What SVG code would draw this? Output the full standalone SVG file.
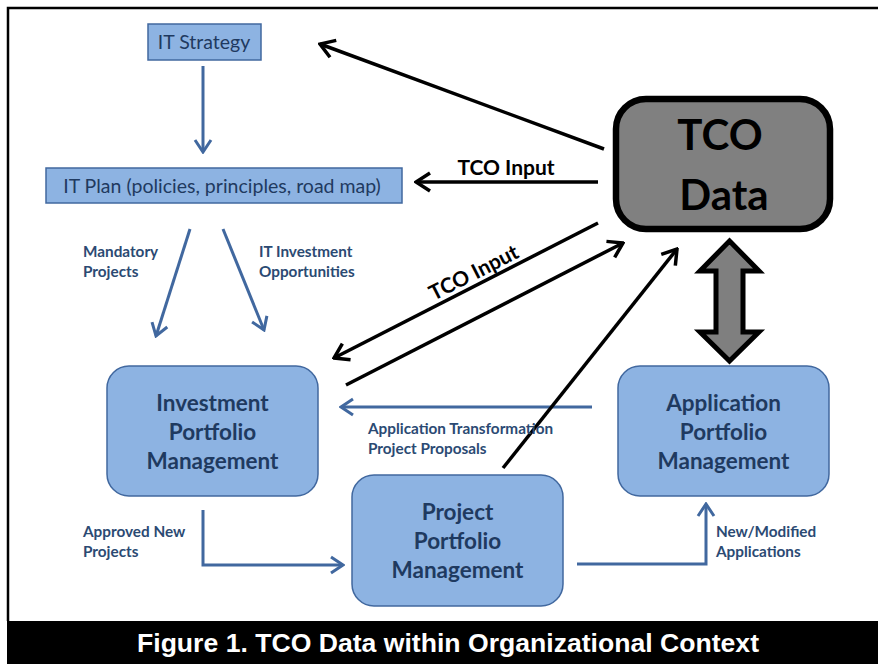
<svg xmlns="http://www.w3.org/2000/svg" width="878" height="664" viewBox="0 0 878 664">
  <style>
    .box { fill: #8db3e2; stroke: #41689f; stroke-width: 1.5; }
    .node-text { font-family: Lato, "Open Sans", sans-serif; fill: #1f3a60; text-anchor: middle; }
    .big { font-size: 22.5px; font-weight: bold; }
    .plain { font-size: 19.5px; }
    .label { font-family: Lato, "Open Sans", sans-serif; font-size: 15.3px; font-weight: bold; fill: #2b4a73; }
    .blue { fill: none; stroke: #41689f; stroke-width: 3; }
    .black { fill: none; stroke: #000; stroke-width: 3.5; }
    .tco-label { font-family: Lato, "Open Sans", sans-serif; font-size: 21px; font-weight: bold; fill: #000; text-anchor: middle; }
    .tco-big { font-family: Lato, "Open Sans", sans-serif; font-size: 42px; font-weight: bold; fill: #000; text-anchor: middle; }
  </style>
  <defs>
    <marker id="head-blue" markerUnits="userSpaceOnUse" viewBox="0 0 16 20" markerWidth="16" markerHeight="20" refX="14" refY="10" orient="auto">
      <path d="M2,2 L14,10 L2,18" fill="none" stroke="#41689f" stroke-width="3"/>
    </marker>
    <marker id="head-black" markerUnits="userSpaceOnUse" viewBox="0 0 18 22" markerWidth="18" markerHeight="22" refX="16" refY="11" orient="auto">
      <path d="M2,2 L16,11 L2,20" fill="none" stroke="#000" stroke-width="3.5"/>
    </marker>
  </defs>

  <rect x="0" y="0" width="878" height="664" fill="#fff"/>
  <!-- outer frame -->
  <path d="M8,621 V8 H878" fill="none" stroke="#000" stroke-width="2.5"/>

  <g id="it-strategy">
    <rect class="box" x="148" y="24" width="113" height="36"/>
    <text class="node-text plain" x="204" y="49">IT Strategy</text>
  </g>

  <g id="it-plan">
    <rect class="box" x="46" y="168" width="356" height="35"/>
    <text class="node-text plain" x="222" y="193">IT Plan (policies, principles, road map)</text>
  </g>

  <g id="tco-data">
    <rect x="616" y="99" width="214" height="130" rx="30" fill="#808080" stroke="#000" stroke-width="6.5"/>
    <text class="tco-big" x="720" y="150">TCO</text>
    <text class="tco-big" x="724" y="210">Data</text>
  </g>

  <g id="investment-portfolio">
    <rect class="box" x="107" y="366" width="211" height="130" rx="22"/>
    <text class="node-text big" x="212.5" y="411">Investment</text>
    <text class="node-text big" x="212.5" y="440">Portfolio</text>
    <text class="node-text big" x="212.5" y="469">Management</text>
  </g>

  <g id="project-portfolio">
    <rect class="box" x="352" y="475" width="211" height="131" rx="22"/>
    <text class="node-text big" x="457.5" y="520">Project</text>
    <text class="node-text big" x="457.5" y="549">Portfolio</text>
    <text class="node-text big" x="457.5" y="578">Management</text>
  </g>

  <g id="application-portfolio">
    <rect class="box" x="618" y="366" width="211" height="130" rx="22"/>
    <text class="node-text big" x="723.5" y="411">Application</text>
    <text class="node-text big" x="723.5" y="440">Portfolio</text>
    <text class="node-text big" x="723.5" y="469">Management</text>
  </g>

  <g id="connectors">
    <!-- blue flow arrows -->
    <line class="blue" x1="203" y1="66" x2="203" y2="152" marker-end="url(#head-blue)"/>
    <line class="blue" x1="190" y1="229" x2="156" y2="336" marker-end="url(#head-blue)"/>
    <line class="blue" x1="223" y1="229" x2="264" y2="330" marker-end="url(#head-blue)"/>
    <line class="blue" x1="592" y1="407" x2="341" y2="407" marker-end="url(#head-blue)"/>
    <path class="blue" d="M203,510 V565 H343" marker-end="url(#head-blue)"/>
    <path class="blue" d="M577,564 H706 V504" marker-end="url(#head-blue)"/>

    <!-- TCO data links -->
    <line class="black" x1="604" y1="149" x2="320" y2="44" marker-end="url(#head-black)"/>
    <line class="black" x1="598" y1="182" x2="416" y2="182" marker-end="url(#head-black)"/>
    <line class="black" x1="598" y1="223" x2="334" y2="358" marker-end="url(#head-black)"/>
    <line class="black" x1="346" y1="385" x2="623" y2="243" marker-end="url(#head-black)"/>
    <line class="black" x1="503" y1="468" x2="677" y2="249" marker-end="url(#head-black)"/>

    <!-- two-way link between TCO Data and Application Portfolio -->
    <polygon points="729.5,241 759,271 743,271 743,332 759,332 729.5,361 700,332 716,332 716,271 700,271" fill="#7f7f7f" stroke="#000" stroke-width="5" stroke-linejoin="miter"/>
  </g>

  <g id="labels">
    <text class="tco-label" x="506" y="175">TCO Input</text>
    <text class="tco-label" transform="translate(477,279) rotate(-27)" x="0" y="0">TCO Input</text>

    <text class="label" x="83" y="257">Mandatory</text>
    <text class="label" x="83" y="277">Projects</text>
    <text class="label" x="259" y="257">IT Investment</text>
    <text class="label" x="259" y="277">Opportunities</text>
    <text class="label" x="368" y="434">Application Transformation</text>
    <text class="label" x="368" y="454">Project Proposals</text>
    <text class="label" x="83" y="537">Approved New</text>
    <text class="label" x="83" y="557">Projects</text>
    <text class="label" x="716" y="537">New/Modified</text>
    <text class="label" x="716" y="557">Applications</text>
  </g>

  <g id="caption">
    <rect x="7" y="621" width="871" height="43" fill="#000"/>
    <text x="448" y="652" font-family="'Liberation Sans', Arial, sans-serif" font-size="25" font-weight="bold" fill="#fff" text-anchor="middle" textLength="622" lengthAdjust="spacingAndGlyphs">Figure 1. TCO Data within Organizational Context</text>
  </g>
</svg>
